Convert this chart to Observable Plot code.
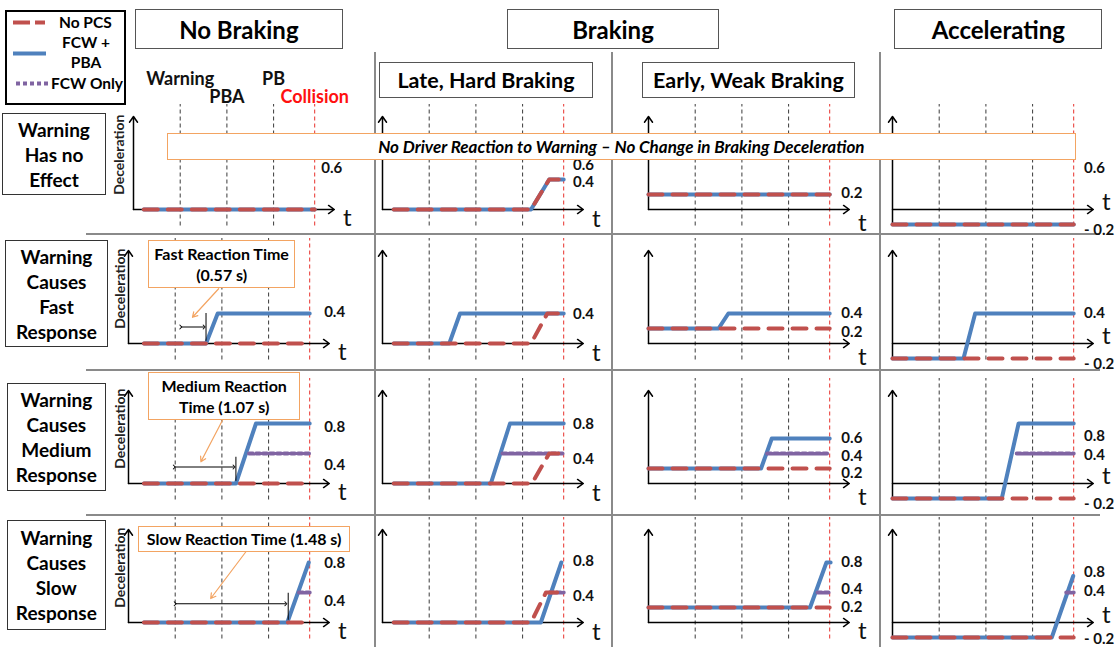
<!DOCTYPE html>
<html><head><meta charset="utf-8">
<script src="https://cdn.jsdelivr.net/npm/d3@7"></script>
<script src="https://cdn.jsdelivr.net/npm/@observablehq/plot@0.6"></script>
<style>
body{margin:0;background:#fff;}
#chart{position:relative;width:1118px;height:647px;overflow:hidden;font-family:Lato,"Open Sans",sans-serif;color:#000;background:#fff;}
.bx{position:absolute;box-sizing:border-box;display:flex;flex-direction:column;align-items:center;justify-content:center;text-align:center;background:#fff;}
.sep{position:absolute;background:#8a8a8a;}
.tx{position:absolute;white-space:nowrap;font-weight:700;}
svg.sw{position:absolute;overflow:visible;}
</style></head>
<body><div id="chart"></div>
<script>
// ---------------- DATA ----------------
const groupHeaders = ["No Braking", "Braking", "Accelerating"];
const subHeaders = ["Late, Hard Braking", "Early, Weak Braking"];
const rowLabels = [["Warning","Has no","Effect"],["Warning","Causes","Fast","Response"],["Warning","Causes","Medium","Response"],["Warning","Causes","Slow","Response"]];
const legendNames = ["No PCS", "FCW +\nPBA", "FCW Only"];
const eventNames = ["Warning", "PBA", "PB", "Collision"];
const eventTimes = [1, 2, 3, 3.88];
const eventLabelLevels = [1.74, 1.5, 1.74, 1.5];
const axisLabel = "Deceleration";
const noReactionNote = "No Driver Reaction to Warning \u2013 No Change in Braking Deceleration";
const reactionNotes = [null, ["Fast Reaction Time","(0.57 s)"], ["Medium Reaction","Time (1.07 s)"], ["Slow Reaction Time (1.48 s)"]];

// series points: [row, col, t, deceleration]
const noPCS = [
 [0,0,0.22,0],[0,0,3.88,0],
 [0,1,0.24,0],[0,1,3.18,0],[0,1,3.57,0.4],[0,1,3.88,0.4],
 [0,2,0,0.2],[0,2,3.88,0.2],
 [0,3,0,-0.2],[0,3,3.88,-0.2],
 [1,0,0.33,0],[1,0,3.88,0],
 [1,1,0.24,0],[1,1,3.18,0],[1,1,3.53,0.4],[1,1,3.88,0.4],
 [1,2,0,0.2],[1,2,3.88,0.2],
 [1,3,0,-0.2],[1,3,3.88,-0.2],
 [2,0,0.33,0],[2,0,3.88,0],
 [2,1,0.24,0],[2,1,3.2,0],[2,1,3.57,0.4],[2,1,3.88,0.4],
 [2,2,0,0.2],[2,2,3.88,0.2],
 [2,3,0,-0.2],[2,3,3.88,-0.2],
 [3,0,0.33,0],[3,0,3.88,0],
 [3,1,0.24,0],[3,1,3.18,0],[3,1,3.5,0.4],[3,1,3.88,0.4],
 [3,2,0,0.2],[3,2,3.88,0.2],
 [3,3,0,-0.2],[3,3,3.88,-0.2]
];
const fcwPBA = [
 [0,0,0.22,0],[0,0,3.88,0],
 [0,1,0.24,0],[0,1,3.18,0],[0,1,3.57,0.4],[0,1,3.88,0.4],
 [0,2,0,0.2],[0,2,3.88,0.2],
 [0,3,0,-0.2],[0,3,3.88,-0.2],
 [1,0,0.33,0],[1,0,1.66,0],[1,0,1.91,0.4],[1,0,3.88,0.4],
 [1,1,0.24,0],[1,1,1.43,0],[1,1,1.66,0.4],[1,1,3.88,0.4],
 [1,2,0,0.2],[1,2,1.5,0.2],[1,2,1.71,0.4],[1,2,3.88,0.4],
 [1,3,0,-0.2],[1,3,1.52,-0.2],[1,3,1.77,0.4],[1,3,3.88,0.4],
 [2,0,0.33,0],[2,0,2.3,0],[2,0,2.73,0.8],[2,0,3.88,0.8],
 [2,1,0.24,0],[2,1,2.32,0],[2,1,2.73,0.8],[2,1,3.88,0.8],
 [2,2,0,0.2],[2,2,2.41,0.2],[2,2,2.64,0.6],[2,2,3.88,0.6],
 [2,3,0,-0.2],[2,3,2.34,-0.2],[2,3,2.7,0.8],[2,3,3.88,0.8],
 [3,0,0.33,0],[3,0,3.4,0],[3,0,3.86,0.8],
 [3,1,0.24,0],[3,1,3.39,0],[3,1,3.83,0.8],
 [3,2,0,0.2],[3,2,3.46,0.2],[3,2,3.81,0.8],[3,2,3.9,0.8],
 [3,3,0,-0.2],[3,3,3.41,-0.2],[3,3,3.87,0.62]
];
const fcwOnly = [
 [2,0,2.58,0.4],[2,0,3.88,0.4],
 [2,1,2.57,0.4],[2,1,3.88,0.4],
 [2,2,2.54,0.4],[2,2,3.88,0.4],
 [2,3,2.66,0.4],[2,3,3.88,0.4],
 [3,0,3.65,0.4],[3,0,3.88,0.4],
 [3,1,3.58,0.4],[3,1,3.88,0.4],
 [3,2,3.62,0.4],[3,2,3.88,0.4],
 [3,3,3.72,0.4],[3,3,3.88,0.4]
];
// value labels: [row, col, text, level]
const valueLabels = [
 [0,0,"0.6",0.55],[0,1,"0.6",0.59],[0,1,"0.4",0.36],[0,2,"0.2",0.22],[0,3,"0.6",0.55],[0,3,"- 0.2",-0.27],
 [1,0,"0.4",0.42],[1,1,"0.4",0.39],[1,2,"0.4",0.41],[1,2,"0.2",0.15],[1,3,"0.4",0.4],[1,3,"- 0.2",-0.27],
 [2,0,"0.8",0.75],[2,0,"0.4",0.25],[2,1,"0.8",0.79],[2,1,"0.4",0.32],[2,2,"0.6",0.6],[2,2,"0.4",0.37],[2,2,"0.2",0.14],[2,3,"0.8",0.63],[2,3,"0.4",0.38],[2,3,"- 0.2",-0.27],
 [3,0,"0.8",0.79],[3,0,"0.4",0.28],[3,1,"0.8",0.82],[3,1,"0.4",0.35],[3,2,"0.8",0.8],[3,2,"0.4",0.44],[3,2,"0.2",0.21],[3,3,"0.8",0.67],[3,3,"0.4",0.42],[3,3,"- 0.2",-0.22]
];
// reaction time spans (No Braking column): [row, tStart, tEnd, level]
const reactionSpans = [[1,1.12,1.62,0.22],[2,0.98,2.26,0.22],[3,1.0,3.37,0.25]];
// reaction onset: [row, t, top level]
const reactionOnsets = [[1,1.66,0.4],[2,2.3,0.35],[3,3.42,0.39]];

// ---------------- STYLE / LAYOUT ----------------
const BLUE = "#4f81bd", RED = "#c0504d", PURPLE = "#8064a2", ORANGE = "#f3a462";
const FONT = "Lato, 'Open Sans', sans-serif";
const unitX = 46.7, unitY = 75;
const colOrigins = [127.7, 381.7, 648.3, 892.3];
const rowBaselines = [209.3, 342.5, 483.3, 622.3];
const labelX = [4.19, 4.08, 4.13, 4.1];
const tLevel = [-0.12, -0.13, -0.19, 0.1];
const pointers = {1:[1.93,0.73,1.37,0.35], 2:[2.01,0.84,1.55,0.29], 3:[2.51,0.94,1.76,0.32]};

const chart = document.getElementById("chart");
function el(tag, cls, css, html){const e=document.createElement(tag); if(cls) e.className=cls; Object.assign(e.style, css||{}); if(html!=null) e.innerHTML=html; chart.appendChild(e); return e;}
const px = v => v + "px";

// separators
el("div","sep",{left:"374px",top:"52px",width:"2px",height:"595px"});
el("div","sep",{left:"611px",top:"52px",width:"2px",height:"595px"});
el("div","sep",{left:"879px",top:"52px",width:"2px",height:"595px"});
[233.5, 369.5, 515].forEach(y => el("div","sep",{left:"86px",top:px(y-1),width:"1014px",height:"2px"}));

// panels
const pick = (arr, r, c) => arr.filter(d => d[0]===r && d[1]===c).map(d => ({t:d[2], v:d[3]}));
for (let r = 0; r < 4; r++) for (let c = 0; c < 4; c++) {
  const ox = (c===0 && r===0) ? 133.3 : colOrigins[c];
  const by = rowBaselines[r];
  const padL = 45, padT = 150, W = 300, H = 190;
  const ymin = c === 3 ? -0.21 : 0;
  const lx = (c===0 && r===0) ? 4.02 : labelX[c];
  const ty = (r === 3 && c === 2) ? -0.12 : tLevel[c];
  const marks = [
    Plot.ruleX(eventTimes.slice(0,3), {x: d => d, y1: -0.22, y2: 1.4, stroke: "#3a3a3a", strokeWidth: 1, strokeDasharray: "4,3"}),
    Plot.ruleX(eventTimes.slice(3), {x: d => d, y1: -0.22, y2: 1.4, stroke: "#e8302c", strokeWidth: 1, strokeDasharray: "4,3"}),
    Plot.arrow([{a:0,b:ymin,c:0,d:1.24},{a:0,b:0,c:4.3,d:0}], {x1:"a", y1:"b", x2:"c", y2:"d", stroke:"#000", strokeWidth:1.5, headLength:7, headAngle:70}),
    Plot.line(pick(fcwPBA, r, c), {x:"t", y:"v", stroke: BLUE, strokeWidth: 4}),
    Plot.line(pick(fcwOnly, r, c), {x:"t", y:"v", stroke: PURPLE, strokeWidth: 4, strokeDasharray: "4,3"}),
    Plot.line(pick(noPCS, r, c), {x:"t", y:"v", stroke: RED, strokeWidth: 4, strokeDasharray: "14,10"}),
    Plot.text(valueLabels.filter(d => d[0]===r && d[1]===c), {x: lx, y: d => d[3], text: d => d[2], textAnchor: "start", fontWeight: "bold", fontSize: 15, fill: "#111"}),
    Plot.text([{s:"t"}], {x: 4.58, y: ty, text: "s", fontSize: 24, fill: "#111"})
  ];
  if (c === 0) {
    marks.push(Plot.text([{s: axisLabel}], {x: (119.4 - ox)/unitX, y: 0.73, text: "s", rotate: -90, fontSize: 14, fontWeight: "bold", fill: "#222"}));
  }
  if (r === 0 && c === 0) {
    const ev = eventNames.map((n,i) => ({n, t: eventTimes[i], lv: eventLabelLevels[i]}));
    marks.push(Plot.text(ev.filter(d => d.n !== "Collision"), {x:"t", y:"lv", text:"n", fontSize:18, fontWeight:"bold", fill:"#111"}));
    marks.push(Plot.text(ev.filter(d => d.n === "Collision"), {x:"t", y:"lv", text:"n", fontSize:18, fontWeight:"bold", fill:"#ff1010"}));
  }
  if (c === 0 && r > 0) {
    const sp = reactionSpans.filter(d => d[0]===r);
    marks.push(Plot.link(sp, {x1: d => d[1], x2: d => d[2], y1: d => d[3], y2: d => d[3], stroke:"#000", strokeWidth:1, markerStart:"arrow", markerEnd:"arrow"}));
    const on = reactionOnsets.filter(d => d[0]===r);
    marks.push(Plot.ruleX(on, {x: d => d[1], y1: 0.03, y2: d => d[2], stroke:"#000", strokeWidth:1}));
    const p = pointers[r];
    marks.push(Plot.arrow([p], {x1: d => d[0], y1: d => d[1], x2: d => d[2], y2: d => d[3], stroke: ORANGE, strokeWidth: 1.2, headLength: 7}));
  }
  const svg = Plot.plot({
    width: W, height: H, margin: 0,
    x: {type: "linear", domain: [0, 1], range: [padL, padL + unitX], axis: null},
    y: {type: "linear", domain: [0, 1], range: [padT, padT - unitY], axis: null},
    style: {position: "absolute", left: px(ox - padL), top: px(by - padT), overflow: "visible", background: "transparent", fontFamily: FONT, maxWidth: "none"},
    marks
  });
  chart.appendChild(svg);
}

// header boxes
const hdrGeom = [[135,9.3,207.7,40],[506.7,9.3,212.6,40],[894.3,9.3,208,40]];
groupHeaders.forEach((h,i) => { const g = hdrGeom[i]; el("div","bx",{left:px(g[0]),top:px(g[1]),width:px(g[2]),height:px(g[3]),border:"1.5px solid #555",fontSize:"24px",fontWeight:"700"}, h); });
const subGeom = [[379.3,61.7,213.4,36.6],[641.7,61.7,213.3,36.6]];
subHeaders.forEach((h,i) => { const g = subGeom[i]; el("div","bx",{left:px(g[0]),top:px(g[1]),width:px(g[2]),height:px(g[3]),border:"1.5px solid #555",fontSize:"21.5px",fontWeight:"700"}, h); });

// row label boxes
const rowGeom = [[2,113,104,82],[5,240,103,107],[6.7,383.3,99.3,107.7],[6.7,520,99.3,110]];
rowLabels.forEach((lines,i) => { const g = rowGeom[i]; el("div","bx",{left:px(g[0]),top:px(g[1]),width:px(g[2]),height:px(g[3]),border:"1.5px solid #333",fontSize:"19px",fontWeight:"700",lineHeight:"25px"}, lines.join("<br>")); });

// legend
el("div","bx",{left:"5px",top:"10px",width:"121px",height:"95px",border:"2.5px solid #000",background:"transparent"});
const leg = legendNames.map(s => s.split("\n"));
el("div","tx",{left:"59px",top:"12px",fontSize:"15.5px",lineHeight:"20px"}, leg[0][0]);
el("div","tx",{left:"60px",top:"32px",width:"52px",textAlign:"center",fontSize:"15.5px",lineHeight:"20px"}, leg[1].join("<br>"));
el("div","tx",{left:"51px",top:"73px",fontSize:"15.5px",lineHeight:"20px"}, leg[2][0]);
chart.insertAdjacentHTML("beforeend",
 `<svg class="sw" style="left:13px;top:20px" width="34" height="5"><line x1="0" y1="2.5" x2="32" y2="2.5" stroke="${RED}" stroke-width="4" stroke-dasharray="17,5"/></svg>
  <svg class="sw" style="left:13px;top:51px" width="34" height="5"><line x1="0" y1="2.5" x2="33" y2="2.5" stroke="${BLUE}" stroke-width="4"/></svg>
  <svg class="sw" style="left:16px;top:81px" width="34" height="5"><line x1="0" y1="2.5" x2="32" y2="2.5" stroke="${PURPLE}" stroke-width="4" stroke-dasharray="4,3"/></svg>`);

// annotation boxes
el("div","bx",{left:"166.7px",top:"132.7px",width:"909.3px",height:"27.3px",border:"1.5px solid "+ORANGE,fontSize:"17px",fontWeight:"700",fontStyle:"italic"}, noReactionNote);
const noteGeom = {1:[148.3,240,146.7,48.3], 2:[148.3,371.7,151.7,48.3], 3:[138.3,525.7,211.7,26]};
[1,2,3].forEach(r => { const g = noteGeom[r]; el("div","bx",{left:px(g[0]),top:px(g[1]),width:px(g[2]),height:px(g[3]),border:"1.5px solid "+ORANGE,fontSize:"16px",fontWeight:"700",lineHeight:"21px"}, reactionNotes[r].join("<br>")); });
</script></body></html>
